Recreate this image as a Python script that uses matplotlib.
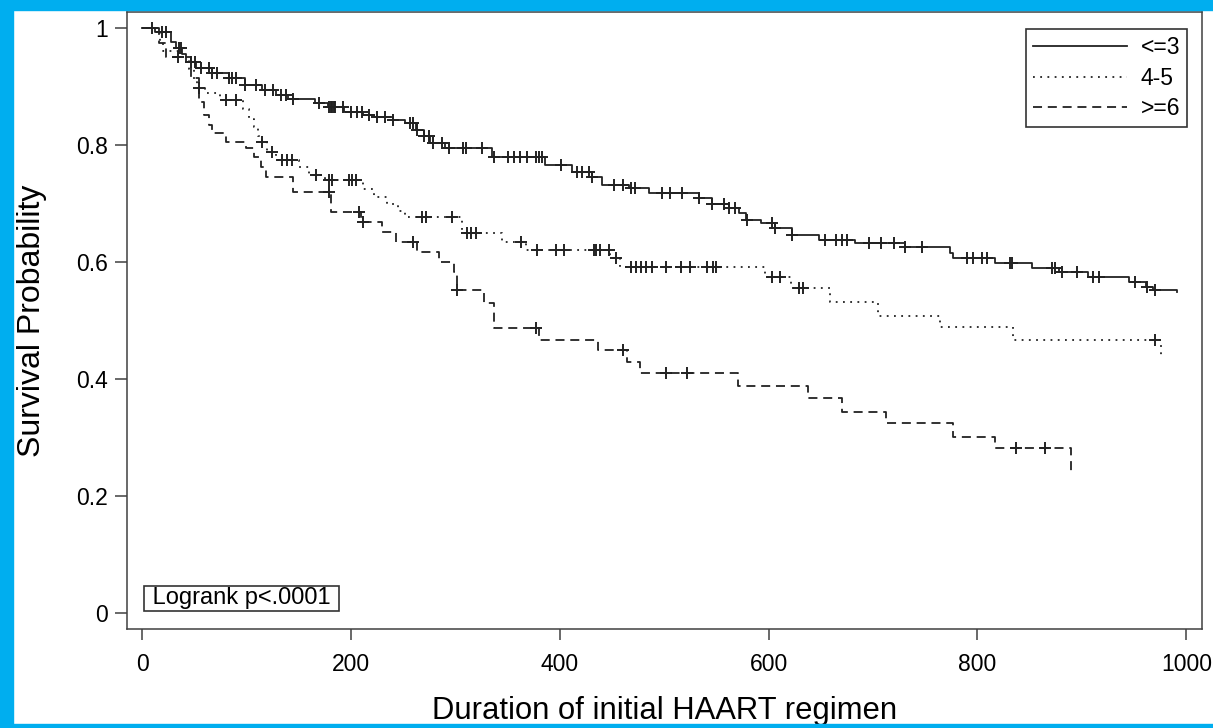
import matplotlib
matplotlib.use('Agg')
import matplotlib.pyplot as plt
from matplotlib.patches import Rectangle
import numpy as np

plt.rcParams['font.family'] = ['Liberation Sans', 'DejaVu Sans']

# group <=3 : step times, survival after each step, censored times, last follow-up
le3_times = [0, 12, 28, 33, 38, 42, 52, 67, 83, 99, 115, 128, 140, 166, 178, 193, 212, 222,
             240, 252, 262, 270, 276, 290, 335, 386, 412, 431, 440, 466, 485, 533, 546, 562,
             572, 578, 593, 606, 622, 648, 683, 731, 774, 777, 817, 852, 878, 906, 945, 961,
             968, 991]
le3_surv = [1.0, 0.993, 0.976, 0.966, 0.955, 0.942, 0.932, 0.923, 0.915, 0.903, 0.894, 0.885,
            0.879, 0.872, 0.865, 0.856, 0.852, 0.848, 0.843, 0.838, 0.826, 0.815, 0.803, 0.795,
            0.78, 0.766, 0.754, 0.745, 0.732, 0.727, 0.718, 0.709, 0.70, 0.692, 0.684, 0.672,
            0.667, 0.658, 0.646, 0.638, 0.632, 0.626, 0.615, 0.607, 0.598, 0.59, 0.583, 0.574,
            0.566, 0.557, 0.552, 0.548]
le3_censor = [10, 19, 23, 35, 37, 47, 51, 56, 64, 67, 72, 83, 86, 90, 99, 109, 118, 125, 133,
              138, 145, 169, 179, 181, 182, 184, 185, 192, 200, 206, 211, 217, 225, 233, 240,
              257, 259, 263, 270, 275, 279, 287, 294, 307, 310, 326, 337, 350, 356, 362, 369,
              377, 380, 383, 401, 417, 421, 428, 431, 452, 461, 468, 472, 498, 506, 517, 533,
              546, 557, 562, 568, 579, 603, 606, 622, 654, 665, 670, 675, 696, 708, 720, 731,
              747, 790, 796, 804, 809, 831, 833, 871, 874, 881, 895, 911, 916, 951, 962, 970]
le3_end = 991

# group 4-5
mid_times = [0, 17, 20, 35, 45, 50, 53, 60, 75, 97, 102, 107, 111, 115, 120, 128, 150, 160,
             175, 212, 222, 235, 245, 252, 306, 345, 368, 448, 458, 597, 621, 659, 705, 764,
             834, 976]
mid_surv = [1.0, 0.975, 0.96, 0.95, 0.93, 0.91, 0.897, 0.889, 0.877, 0.862, 0.845, 0.83, 0.815,
            0.805, 0.788, 0.774, 0.762, 0.749, 0.74, 0.725, 0.711, 0.70, 0.688, 0.677, 0.65,
            0.634, 0.62, 0.607, 0.591, 0.574, 0.556, 0.532, 0.508, 0.489, 0.467, 0.441]
mid_censor = [55, 80, 90, 115, 124, 134, 139, 144, 167, 179, 182, 198, 201, 205, 268, 272, 297,
              311, 315, 320, 363, 378, 396, 404, 433, 435, 439, 447, 454, 468, 473, 478, 483,
              488, 502, 516, 525, 541, 547, 550, 603, 611, 629, 633, 970]
mid_end = 976

# group >=6
ge6_times = [0, 16, 23, 47, 55, 59, 64, 67, 80, 100, 107, 114, 119, 145, 181, 210, 230, 243,
             263, 284, 299, 302, 327, 337, 380, 437, 464, 477, 571, 638, 670, 712, 777, 817, 890]
ge6_surv = [1.0, 0.975, 0.95, 0.915, 0.874, 0.851, 0.834, 0.82, 0.805, 0.795, 0.78, 0.762,
            0.745, 0.72, 0.685, 0.668, 0.651, 0.634, 0.617, 0.60, 0.583, 0.552, 0.53, 0.487,
            0.467, 0.45, 0.429, 0.41, 0.388, 0.368, 0.344, 0.325, 0.301, 0.282, 0.24]
ge6_censor = [34, 179, 208, 212, 259, 302, 377, 461, 502, 522, 837, 865]
ge6_end = 890

labels = ['<=3', '4-5', '>=6']
styles = ['-', (0, (1, 3)), (0, (5, 3.2))]

x_ticks = [0, 200, 400, 600, 800, 1000]
y_ticks = [0, 0.2, 0.4, 0.6, 0.8, 1.0]
y_ticklabels = ['0', '0.2', '0.4', '0.6', '0.8', '1']

INK = '#222222'
FRAME = '#404040'


def km_curve(ax, times, surv, censor, end, ls, label):
    t = np.append(times, end)
    s = np.append(surv, surv[-1])
    ax.step(t, s, where='post', color=INK, lw=1.3, linestyle=ls, label=label)
    idx = np.searchsorted(times, censor, side='right') - 1
    ax.plot(censor, np.asarray(surv)[idx], linestyle='none', marker='+',
            markersize=9, mew=1.4, color=INK)


fig = plt.figure(figsize=(12.13, 7.28), dpi=100)
ax = fig.add_axes([0.1047, 0.136, 0.8862, 0.8475])

km_curve(ax, le3_times, le3_surv, le3_censor, le3_end, styles[0], labels[0])
km_curve(ax, mid_times, mid_surv, mid_censor, mid_end, styles[1], labels[1])
km_curve(ax, ge6_times, ge6_surv, ge6_censor, ge6_end, styles[2], labels[2])

ax.set_xlim(-14.4, 1015)
ax.set_ylim(-0.0274, 1.0274)
ax.set_xticks(x_ticks)
ax.set_yticks(y_ticks)
ax.set_yticklabels(y_ticklabels)
ax.tick_params(axis='x', length=8, width=1.1, pad=9.5, labelsize=16.5, color=FRAME)
ax.tick_params(axis='y', length=9, width=1.1, pad=5, labelsize=16.5, color=FRAME)
for sp in ax.spines.values():
    sp.set_color(FRAME)
    sp.set_linewidth(1.1)

ax.set_xlabel('Duration of initial HAART regimen', fontsize=22.3)
ax.set_ylabel('Survival Probability', fontsize=23)
ax.xaxis.set_label_coords(0.5, -0.109)
ax.yaxis.set_label_coords(-0.074, 0.5)

leg = ax.legend(loc='upper right', bbox_to_anchor=(1187 / 1213, 1 - 29 / 728),
                bbox_transform=fig.transFigure, borderaxespad=0, fontsize=16.5,
                handlelength=4.1, labelspacing=0.34, fancybox=False, framealpha=1,
                edgecolor='#333333', borderpad=0.3, handletextpad=0.6)
leg.get_frame().set_linewidth(1.2)

ax.text(3.5, 0.006, ' Logrank p<.0001 ', fontsize=17, ha='left', va='bottom',
        bbox=dict(boxstyle='square,pad=0.08', fc='white', ec='#333333', lw=1.2))

# blue frame around the figure
blue = '#00AEEF'
fig.patches.append(Rectangle((0, 1 - 10 / 728), 1, 10 / 728, transform=fig.transFigure,
                             color=blue, zorder=10))
fig.patches.append(Rectangle((0, 0), 13 / 1213, 1, transform=fig.transFigure,
                             color=blue, zorder=10))
fig.patches.append(Rectangle((0, 0), 1, 4 / 728, transform=fig.transFigure,
                             color=blue, zorder=10))

fig.savefig('out.png', dpi=100)
